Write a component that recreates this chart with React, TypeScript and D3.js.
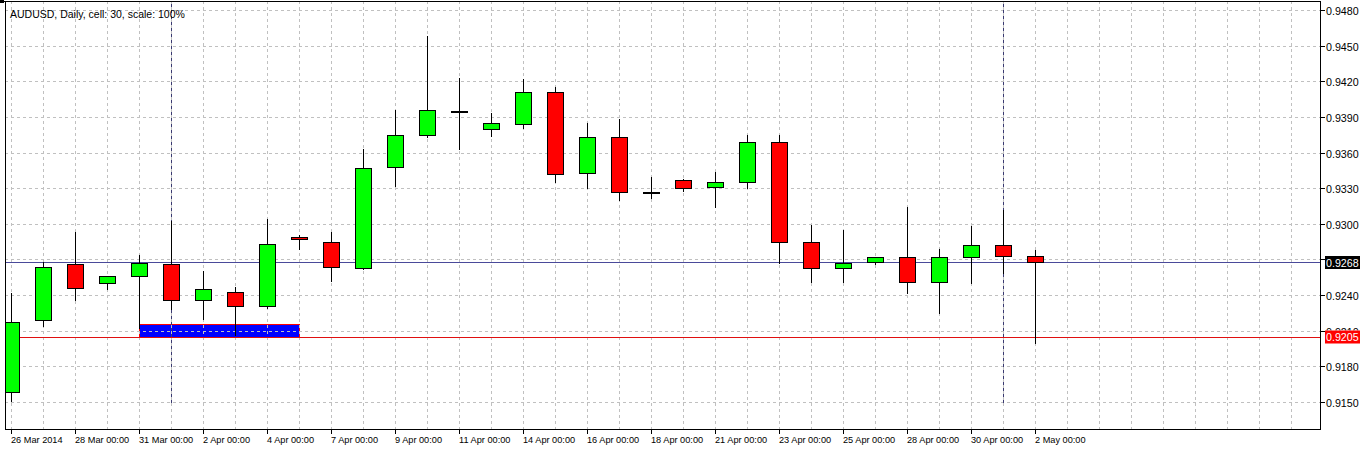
import React from "react";
import * as d3 from "d3";

const dates = [
  "26 Mar 2014", "27 Mar", "28 Mar", "30 Mar", "31 Mar", "1 Apr", "2 Apr", "3 Apr", "4 Apr",
  "6 Apr", "7 Apr", "8 Apr", "9 Apr", "10 Apr", "11 Apr", "13 Apr", "14 Apr", "15 Apr",
  "16 Apr", "17 Apr", "18 Apr", "20 Apr", "21 Apr", "22 Apr", "23 Apr", "24 Apr", "25 Apr",
  "27 Apr", "28 Apr", "29 Apr", "30 Apr", "1 May", "2 May",
];
const openV = [0.9158, 0.9219, 0.9266, 0.9250, 0.9256, 0.9266, 0.9236, 0.9243, 0.9231, 0.9289, 0.9285, 0.9263, 0.9348, 0.9375, 0.9395, 0.9380, 0.9384, 0.9411, 0.9343, 0.9373, 0.9327, 0.9337, 0.9331, 0.9335, 0.9369, 0.9285, 0.9263, 0.9268, 0.9272, 0.9251, 0.9272, 0.9282, 0.9273];
const highV = [0.9242, 0.9268, 0.9293, 0.9256, 0.9274, 0.9302, 0.9260, 0.9247, 0.9304, 0.9291, 0.9293, 0.9363, 0.9396, 0.9458, 0.9423, 0.9393, 0.9422, 0.9415, 0.9385, 0.9388, 0.9339, 0.9338, 0.9344, 0.9375, 0.9375, 0.9299, 0.9295, 0.9272, 0.9314, 0.9279, 0.9298, 0.9312, 0.9278];
const lowV = [0.9151, 0.9214, 0.9236, 0.9245, 0.9212, 0.9228, 0.9220, 0.9206, 0.9229, 0.9279, 0.9252, 0.9262, 0.9332, 0.9373, 0.9363, 0.9374, 0.9381, 0.9335, 0.9330, 0.9320, 0.9322, 0.9328, 0.9314, 0.9330, 0.9267, 0.9251, 0.9251, 0.9266, 0.9242, 0.9225, 0.9250, 0.9259, 0.9200];
const closeV = [0.9217, 0.9264, 0.9246, 0.9256, 0.9267, 0.9236, 0.9245, 0.9231, 0.9283, 0.9287, 0.9264, 0.9347, 0.9375, 0.9396, 0.9395, 0.9385, 0.9411, 0.9342, 0.9373, 0.9327, 0.9326, 0.9330, 0.9335, 0.9369, 0.9285, 0.9263, 0.9267, 0.9272, 0.9251, 0.9272, 0.9282, 0.9273, 0.9268];

const priceTicks = [0.9150, 0.9180, 0.9210, 0.9240, 0.9270, 0.9300, 0.9330, 0.9360, 0.9390, 0.9420, 0.9450, 0.9480];
const hiddenTickLabels = [0.9270];
const timeTickIdx = [0, 2, 4, 6, 8, 10, 12, 14, 16, 18, 20, 22, 24, 26, 28, 30, 32];
const timeTickLabels = [
  "26 Mar 2014", "28 Mar 00:00", "31 Mar 00:00", "2 Apr 00:00", "4 Apr 00:00", "7 Apr 00:00",
  "9 Apr 00:00", "11 Apr 00:00", "14 Apr 00:00", "16 Apr 00:00", "18 Apr 00:00", "21 Apr 00:00",
  "23 Apr 00:00", "25 Apr 00:00", "28 Apr 00:00", "30 Apr 00:00", "2 May 00:00",
];
const separatorIdx = [5, 31];
const bidPrice = 0.9268;
const linePrice = 0.9205;
const zoneFromIdx = 4;
const zoneToIdx = 9;
const zoneTop = 0.9216;
const zoneBottom = 0.9205;

const W = 1366;
const H = 450;
const L = 5;
const R = 1320;
const T = 1;
const B = 429;

const x = d3.scaleLinear().domain([0, 32]).range([11.5, 1035.5]);
const y = d3.scaleLinear().domain([0.915, 0.948]).range([402, 10]);
const py = (v: number) => Math.round(y(v)) + 0.5;

const FONT = "'Liberation Sans', Arial, sans-serif";

export default function App() {
  const gridX: number[] = d3.range(0, 41).map((i) => x(i)).filter((v) => v < R);
  const green = "#00FF00";
  const red = "#FF0000";
  const redBoxTop = py(linePrice) - 7;
  return (
    <svg width={W} height={H} style={{ position: "absolute", left: 0, top: 0, background: "#fff" }}>
      <defs>
        <clipPath id="plot">
          <rect x={L + 1} y={T + 1} width={R - L - 1} height={B - T - 1} />
        </clipPath>
        <clipPath id="aboveRed">
          <rect x={1320} y={0} width={46} height={redBoxTop} />
        </clipPath>
      </defs>
      <rect x={0} y={0} width={W} height={H} fill="#fff" />
      <g clipPath="url(#plot)">
        <rect
          x={Math.round(x(zoneFromIdx)) - 0.5}
          y={py(zoneTop)}
          width={x(zoneToIdx) - x(zoneFromIdx)}
          height={py(zoneBottom) - py(zoneTop)}
          fill="#0000FF"
          stroke="#FF0000"
          strokeWidth={1}
        />
        {priceTicks.map((t) => (
          <line key={"h" + t} x1={L} x2={R} y1={py(t)} y2={py(t)} stroke="#c0c0c0" strokeDasharray="3,3" />
        ))}
        {gridX.map((gx) => (
          <line key={"v" + gx} x1={gx} x2={gx} y1={T} y2={B} stroke="#c0c0c0" strokeDasharray="3,3" />
        ))}
        {separatorIdx.map((i) => (
          <line key={"s" + i} x1={x(i)} x2={x(i)} y1={4} y2={404} stroke="#3a3a72" strokeDasharray="3,3" />
        ))}
        <line x1={L} x2={R} y1={py(bidPrice)} y2={py(bidPrice)} stroke="#4a4a9a" />
        <line x1={L} x2={R} y1={py(linePrice)} y2={py(linePrice)} stroke="#E01010" />
        {dates.map((d, i) => {
          const o = openV[i];
          const c = closeV[i];
          const cx = x(i);
          const top = Math.round(y(Math.max(o, c)));
          const bot = Math.round(y(Math.min(o, c)));
          return (
            <g key={d}>
              <line x1={cx} x2={cx} y1={Math.round(y(highV[i]))} y2={Math.round(y(lowV[i])) + 1} stroke="#000" />
              <rect
                x={cx - 8}
                y={top + 0.5}
                width={16}
                height={Math.max(1, bot - top)}
                fill={c >= o ? green : red}
                stroke="#000"
                strokeWidth={1}
              />
            </g>
          );
        })}
      </g>
      <rect x={0} y={0} width={4} height={3} fill="#000" />
      <line x1={0} x2={R + 1} y1={T + 0.5} y2={T + 0.5} stroke="#000" />
      <line x1={L + 0.5} x2={L + 0.5} y1={T} y2={B + 1} stroke="#000" />
      <line x1={R + 0.5} x2={R + 0.5} y1={T} y2={B + 1} stroke="#000" />
      <line x1={L} x2={R + 1} y1={B + 0.5} y2={B + 0.5} stroke="#000" />
      <text x={10} y={18} fontFamily={FONT} fontSize={10.5} fill="#000">
        AUDUSD, Daily, cell: 30, scale: 100%
      </text>
      {priceTicks.map((t) => (
        <g key={"pt" + t}>
          <line x1={R} x2={R + 5} y1={py(t)} y2={py(t)} stroke="#000" />
          {hiddenTickLabels.indexOf(t) < 0 && (
            <text
              x={1326}
              y={py(t) + 4}
              fontFamily={FONT}
              fontSize={10.7}
              fill="#000"
              clipPath={Math.abs(t - linePrice) < 0.001 ? "url(#aboveRed)" : undefined}
            >
              {d3.format(".4f")(t)}
            </text>
          )}
        </g>
      ))}
      <rect x={1325} y={py(bidPrice) - 6.5} width={35} height={13} fill="#000" />
      <text x={1326} y={py(bidPrice) + 4} fontFamily={FONT} fontSize={10.7} fill="#fff">
        {d3.format(".4f")(bidPrice)}
      </text>
      <rect x={1325} y={redBoxTop} width={35} height={13} fill="#FF0000" />
      <text x={1326} y={py(linePrice) + 3.5} fontFamily={FONT} fontSize={10.7} fill="#fff">
        {d3.format(".4f")(linePrice)}
      </text>
      {timeTickIdx.map((i, k) => (
        <g key={"tt" + i}>
          <line x1={x(i)} x2={x(i)} y1={B} y2={B + 5} stroke="#000" />
          <text x={x(i) - 0.5} y={443} fontFamily={FONT} fontSize={9.2} fill="#000">
            {timeTickLabels[k]}
          </text>
        </g>
      ))}
    </svg>
  );
}
